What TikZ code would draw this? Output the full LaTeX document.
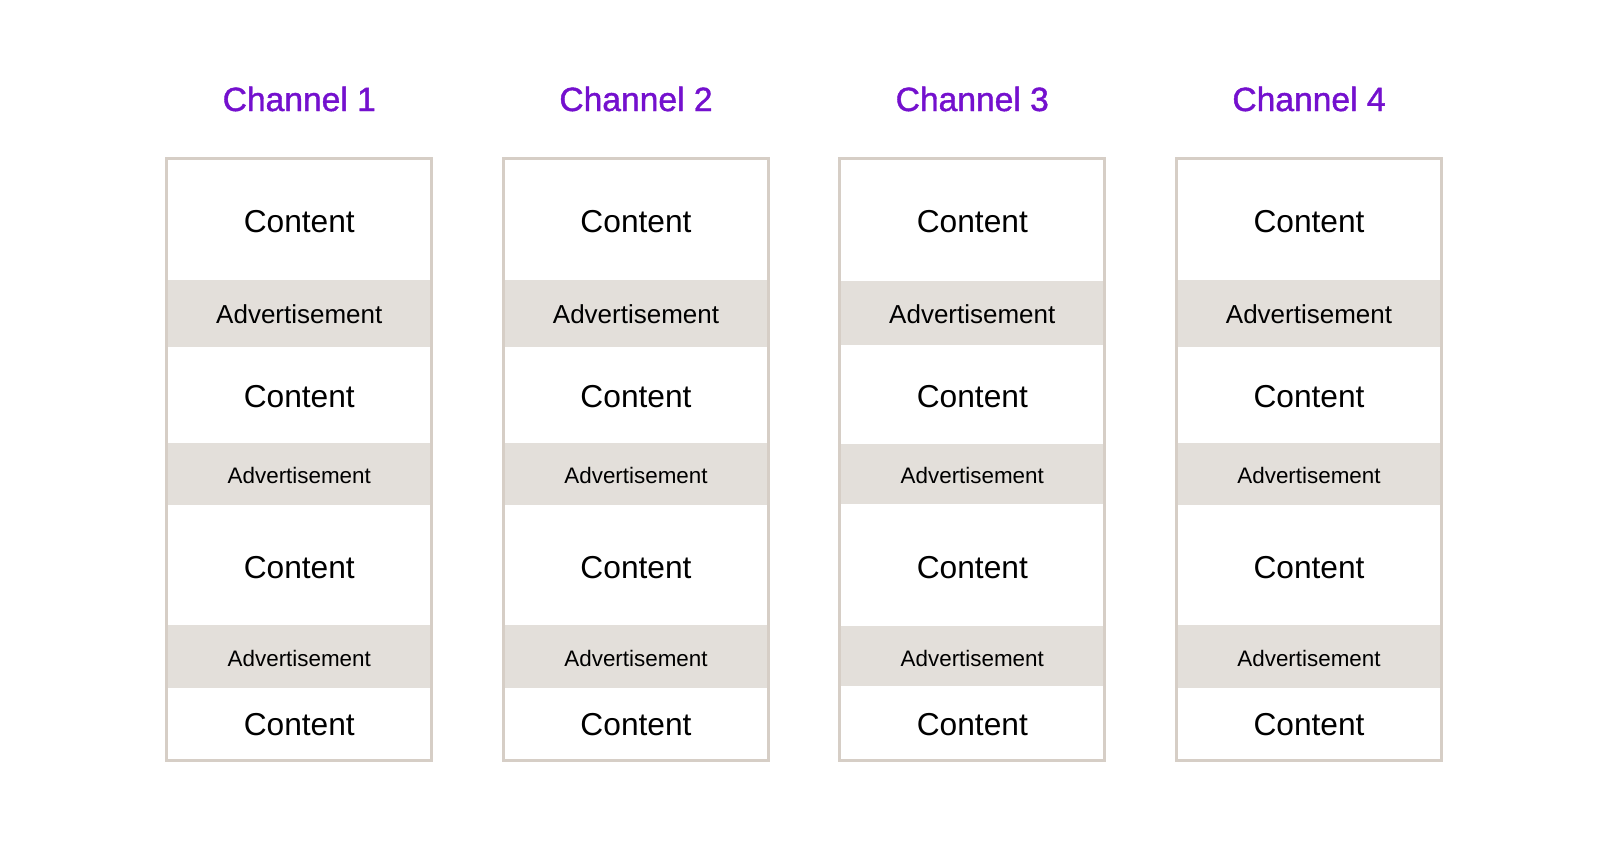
\documentclass[tikz,border=0pt]{standalone}
\usepackage{fontspec}
\setmainfont{Liberation Sans}
\newfontfamily\chtitlefont[FakeBold=1.2]{Liberation Sans}
\definecolor{titlepurple}{RGB}{116,16,206}
\definecolor{adfill}{RGB}{227,223,218}
\definecolor{boxline}{RGB}{214,206,198}
\begin{document}
\begin{tikzpicture}[x=1pt,y=-1pt,
  chtitle/.style={anchor=base,text=titlepurple,font=\chtitlefont\fontsize{33.6}{36}\selectfont,inner sep=0},
  contenttext/.style={anchor=base,text=black,font=\fontsize{31.7}{36}\selectfont,inner sep=0},
  adbig/.style={anchor=base,text=black,font=\fontsize{26}{30}\selectfont,inner sep=0},
  adsmall/.style={anchor=base,text=black,font=\fontsize{22.4}{26}\selectfont,inner sep=0},
  adband/.style={fill=adfill},
  channelbox/.style={draw=boxline,line width=3pt}]
\useasboundingbox[fill=white] (0,0) rectangle (1600,852);
\foreach \i/\L/\a/\b/\c/\d/\e/\f in {1/165.3/280/347/442.5/505/625/688,
                                     2/502/280/347/442.5/505/624.5/688,
                                     3/838.3/281/345/444/503.5/626/686,
                                     4/1175/280/347/442.5/505/625/688}{
  \pgfmathsetmacro{\R}{\L+268}
  \pgfmathsetmacro{\M}{\L+134}
  \fill[adband] (\L+3,\a) rectangle (\R-3,\b);
  \fill[adband] (\L+3,\c) rectangle (\R-3,\d);
  \fill[adband] (\L+3,\e) rectangle (\R-3,\f);
  \draw[channelbox] (\L+1.5,158.5) rectangle (\R-1.5,760.2);
  \node[chtitle] (title\i) at (\M,111) {Channel \i};
  \node[contenttext] (contentA\i) at (\M,232.6) {Content};
  \node[adbig] (adA\i) at (\M,323) {Advertisement};
  \node[contenttext] (contentB\i) at (\M,407.5) {Content};
  \node[adsmall] (adB\i) at (\M,483.3) {Advertisement};
  \node[contenttext] (contentC\i) at (\M,578) {Content};
  \node[adsmall] (adC\i) at (\M,666) {Advertisement};
  \node[contenttext] (contentD\i) at (\M,735.6) {Content};
}
\end{tikzpicture}
\end{document}
